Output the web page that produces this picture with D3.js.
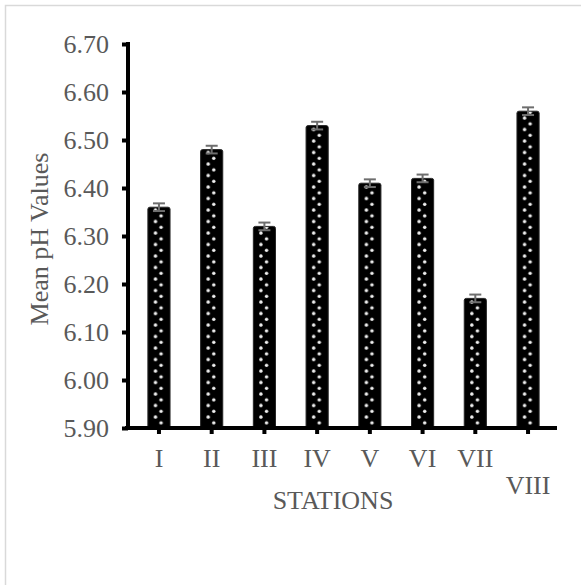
<!DOCTYPE html>
<html>
<head>
<meta charset="utf-8">
<script src="https://cdn.jsdelivr.net/npm/d3@7/dist/d3.min.js"></script>
<style>
  html, body { margin: 0; padding: 0; background: #fff; }
  svg { display: block; }
</style>
</head>
<body>
<div id="chart"></div>
<script>
// station names and mean pH readings
const stations = ['I', 'II', 'III', 'IV', 'V', 'VI', 'VII', 'VIII'];
const meanPH = [6.36, 6.48, 6.32, 6.53, 6.41, 6.42, 6.17, 6.56];
const errPH = [0.008, 0.008, 0.008, 0.008, 0.008, 0.008, 0.008, 0.008];
const yTicks = [5.9, 6.0, 6.1, 6.2, 6.3, 6.4, 6.5, 6.6, 6.7];

const width = 581, height = 585;
const font = '"Liberation Serif", "Times New Roman", serif';

const svg = d3.select('#chart').append('svg')
    .attr('width', width)
    .attr('height', height);

// chart area border (runs off the right/bottom edge)
svg.append('rect')
    .attr('x', 5.5).attr('y', 5.5)
    .attr('width', width).attr('height', height)
    .style('fill', 'none')
    .style('stroke', '#d9d9d9')
    .style('stroke-width', '1.5px');

const y = d3.scaleLinear().domain([5.9, 6.7]).range([428, 44]);
const x = d3.scaleBand().domain(stations).range([132.6, 554.4]).paddingInner(0.58).paddingOuter(0.29);

const defs = svg.append('defs');
// one dotted pattern per bar so the dots line up inside each bar
stations.forEach((s, i) => {
    const p = defs.append('pattern')
        .attr('id', 'dots' + i)
        .attr('patternUnits', 'userSpaceOnUse')
        .attr('x', x(s)).attr('y', 0)
        .attr('width', x.bandwidth()).attr('height', 11.5);
    p.append('rect').attr('width', x.bandwidth()).attr('height', 11.5).style('fill', '#000');
    p.append('circle').attr('cx', 7.6).attr('cy', 3).attr('r', 1.7).style('fill', '#f0f0f0');
    p.append('circle').attr('cx', 13.2).attr('cy', 8.8).attr('r', 1.7).style('fill', '#f0f0f0');
});

svg.append('g').selectAll('rect')
    .data(stations)
    .join('rect')
    .attr('x', d => x(d))
    .attr('y', (d, i) => y(meanPH[i]))
    .attr('width', x.bandwidth())
    .attr('height', (d, i) => y(5.9) - y(meanPH[i]))
    .attr('rx', 2)
    .style('fill', (d, i) => `url(#dots${i})`)
    .style('stroke', '#262626')
    .style('stroke-width', '1px');

// error bars
const eb = svg.append('g').selectAll('g')
    .data(stations)
    .join('g')
    .attr('transform', d => `translate(${x(d) + x.bandwidth() / 2},0)`)
    .style('stroke', '#6e6e6e')
    .style('stroke-width', '2px');
eb.append('line')
    .attr('y1', (d, i) => y(meanPH[i] - errPH[i]))
    .attr('y2', (d, i) => y(meanPH[i] + errPH[i]));
eb.append('line').attr('x1', -6).attr('x2', 6)
    .attr('y1', (d, i) => y(meanPH[i] + errPH[i]))
    .attr('y2', (d, i) => y(meanPH[i] + errPH[i]));
eb.append('line').attr('x1', -6).attr('x2', 6)
    .attr('y1', (d, i) => y(meanPH[i] - errPH[i]))
    .attr('y2', (d, i) => y(meanPH[i] - errPH[i]));

// y axis
const yAxis = svg.append('g')
    .attr('transform', 'translate(128,0)')
    .call(d3.axisLeft(y).tickValues(yTicks).tickFormat(d3.format('.2f')).tickSize(6).tickPadding(13));
yAxis.select('.domain').remove();
yAxis.selectAll('.tick line').style('stroke', '#000').style('stroke-width', '4px');
yAxis.selectAll('.tick text')
    .style('font-family', font).style('font-size', '26px').style('fill', '#595959');
svg.append('line')
    .attr('x1', 128).attr('x2', 128)
    .attr('y1', y(6.7) - 2).attr('y2', y(5.9) + 1.5)
    .style('stroke', '#000').style('stroke-width', '4px');

// x axis
const xAxis = svg.append('g')
    .attr('transform', 'translate(0,428)')
    .call(d3.axisBottom(x).tickSize(6).tickPadding(15));
xAxis.select('.domain').remove();
xAxis.selectAll('.tick line').style('stroke', '#000').style('stroke-width', '4px');
xAxis.selectAll('.tick text')
    .style('font-family', font).style('font-size', '26px').style('fill', '#595959')
    .attr('dy', d => d === 'VIII' ? '1.72em' : '0.71em');
svg.append('line')
    .attr('x1', 125).attr('x2', 557)
    .attr('y1', 428).attr('y2', 428)
    .style('stroke', '#000').style('stroke-width', '4px');

// axis titles
svg.append('text')
    .attr('transform', `translate(48,${(y(5.9) + y(6.7)) / 2 + 3}) rotate(-90)`)
    .attr('text-anchor', 'middle')
    .style('font-family', font).style('font-size', '26px').style('fill', '#595959')
    .text('Mean pH Values');
svg.append('text')
    .attr('x', 333).attr('y', 509)
    .attr('text-anchor', 'middle')
    .style('font-family', font).style('font-size', '26px').style('fill', '#595959')
    .text('STATIONS');
</script>
</body>
</html>
